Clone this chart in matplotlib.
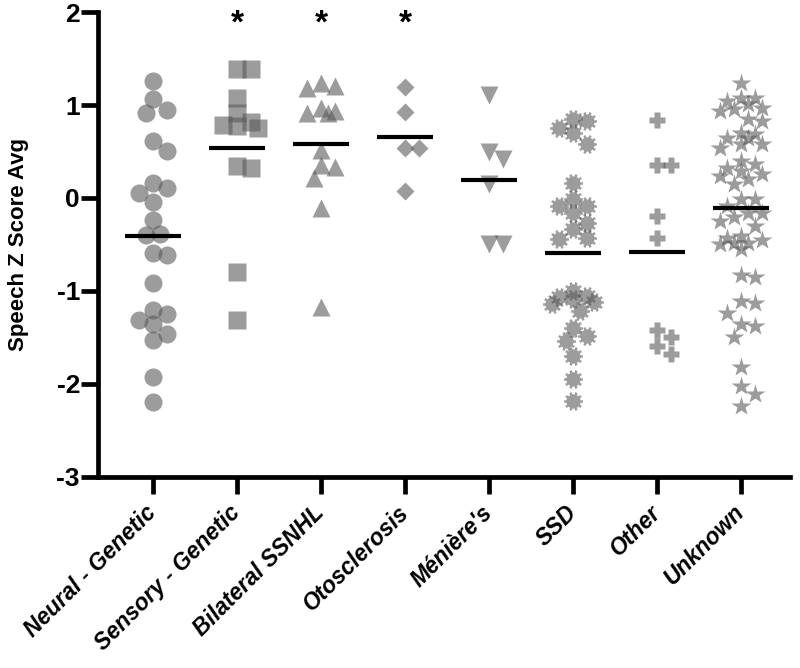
import numpy as np
import matplotlib
matplotlib.use("Agg")
import matplotlib.pyplot as plt
from matplotlib.path import Path

# ---------------- data ----------------
categories = ["Neural - Genetic", "Sensory - Genetic", "Bilateral SSNHL", "Otosclerosis",
              "Ménière's", "SSD", "Other", "Unknown"]

neural_genetic = [1.26, 1.06, 0.95, 0.91, 0.61, 0.51, 0.16, 0.05, 0.11, -0.04, -0.24, -0.39,
                  -0.40, -0.59, -0.61, -0.91, -1.20, -1.31, -1.25, -1.36, -1.46, -1.53, -1.93, -2.19]
sensory_genetic = [1.39, 1.39, 1.08, 0.91, 0.82, 0.77, 0.75, 0.78, 0.32, 0.34, -0.80, -1.31]
bilateral_ssnhl = [1.24, 1.20, 1.18, 0.94, 0.91, 0.91, 0.97, 0.52, 0.35, 0.33, 0.21, -0.11, -1.17]
otosclerosis = [1.19, 0.92, 0.54, 0.54, 0.08]
menieres = [1.11, 0.49, 0.42, 0.15, -0.50, -0.50]
ssd = [0.83, 0.85, 0.75, 0.70, 0.58, 0.16, -0.01, -0.09, -0.09, -0.16, -0.27, -0.33, -0.43,
       -0.44, -1.09, -1.00, -1.07, -1.21, -1.14, -1.40, -1.48, -1.54, -1.70, -1.95, -2.18,
       -1.12, -1.05]
other = [0.84, 0.35, 0.36, -0.19, -0.43, -1.42, -1.50, -1.59, -1.68]
unknown = [1.24, 1.08, 1.04, 1.08, 1.01, 0.97, 0.96, 0.94, 0.83, 0.85, 0.65, 0.69, 0.70, 0.65,
           0.58, 0.54, 0.58, 0.37, 0.40, 0.32, 0.29, 0.24, 0.26, 0.15, 0.20, -0.01, -0.01,
           -0.09, -0.16, -0.16, -0.25, -0.43, -0.41, -0.48, -0.48, -0.55, -0.83, -0.85,
           -1.11, -1.13, -1.24, -1.35, -1.38, -1.50, -1.82, -2.02, -2.11, -2.24,
           -0.30, -0.45, -0.50, -0.20]

groups = [neural_genetic, sensory_genetic, bilateral_ssnhl, otosclerosis,
          menieres, ssd, other, unknown]
significant = ["Sensory - Genetic", "Bilateral SSNHL", "Otosclerosis"]
y_ticks = [-3, -2, -1, 0, 1, 2]

# ---------------- markers ----------------
def gear_path(n=10, r_out=1.0, r_in=0.76):
    verts = []
    w = np.pi / n * 0.5
    for i in range(n):
        a = 2 * np.pi * i / n
        for r, ang in ((r_in, a - w), (r_out, a - w * 0.9), (r_out, a + w * 0.9), (r_in, a + w)):
            verts.append((r * np.cos(ang), r * np.sin(ang)))
    verts.append(verts[0])
    codes = [Path.MOVETO] + [Path.LINETO] * (len(verts) - 2) + [Path.CLOSEPOLY]
    return Path(verts, codes)

marker_styles = [("o", 13.0), ("s", 12.5), ("^", 13.0), ("D", 8.8),
                 ("v", 13.0), (gear_path(), 13.5), ("P", 12.0), ("*", 14.5)]

# ---------------- figure ----------------
plt.rcParams["font.family"] = ["Liberation Sans", "DejaVu Sans"]
fig = plt.figure(figsize=(8.0, 6.68), dpi=100)
ax = fig.add_axes([0.1225, 0.286, 0.865, 0.696])
ax.set_xlim(-0.655, 7.58)
ax.set_ylim(-3, 2)

def swarm_offsets(values, min_px=14.0, step_px=7.0, max_steps=3):
    t = ax.transData.transform
    ppx = t((1, 0))[0] - t((0, 0))[0]
    ppy = t((0, 1))[1] - t((0, 0))[1]
    vals = np.asarray(values, dtype=float)
    order = np.argsort(-vals, kind="stable")
    cands = [0.0]
    for j in range(1, max_steps + 1):
        cands += [j * step_px, -j * step_px]
    placed = []
    offs = np.zeros(len(vals))
    for i in order:
        yp = vals[i] * ppy
        best, best_d = 0.0, -1.0
        for c in cands:
            d = min([np.hypot(c - px, yp - py) for px, py in placed] or [1e9])
            if d >= min_px:
                best = c
                break
            if d > best_d + 0.5:
                best, best_d = c, d
        placed.append((best, yp))
        offs[i] = best / ppx
    return offs

point_color = "#5a5a5a"
for i, (vals, (mk, ms)) in enumerate(zip(groups, marker_styles)):
    offs = swarm_offsets(vals)
    ax.plot(i + offs, vals, linestyle="none", marker=mk, markersize=ms,
            markerfacecolor=point_color, markeredgecolor="none", alpha=0.6, zorder=2)
    m = np.mean(vals)
    ax.plot([i - 0.335, i + 0.335], [m, m], color="black", lw=3.0,
            solid_capstyle="butt", zorder=3)
    if categories[i] in significant:
        ax.text(i, 1.87, "*", ha="center", va="center", fontsize=24,
                fontweight="bold", color="black")

ax.spines["top"].set_visible(False)
ax.spines["right"].set_visible(False)
for s in ("left", "bottom"):
    ax.spines[s].set_linewidth(3.4)
ax.spines["left"].set_bounds(-3, 2)

ax.set_yticks(y_ticks)
ax.set_yticklabels([str(v) for v in y_ticks], fontsize=19, fontweight="bold")
ax.set_xticks(range(len(categories)))
ax.set_xticklabels(categories, rotation=45, ha="right", va="center", rotation_mode="anchor",
                   fontsize=16.5, fontweight="bold", fontstyle="italic")
ax.tick_params(axis="y", length=12, width=3.4, direction="out", pad=1)
ax.tick_params(axis="x", length=12, width=3.4, direction="out", pad=11)
ax.set_ylabel("Speech Z Score Avg", fontsize=16, fontweight="bold")
ax.yaxis.set_label_coords(-0.10, 0.5)

fig.savefig("out.png", dpi=100)
